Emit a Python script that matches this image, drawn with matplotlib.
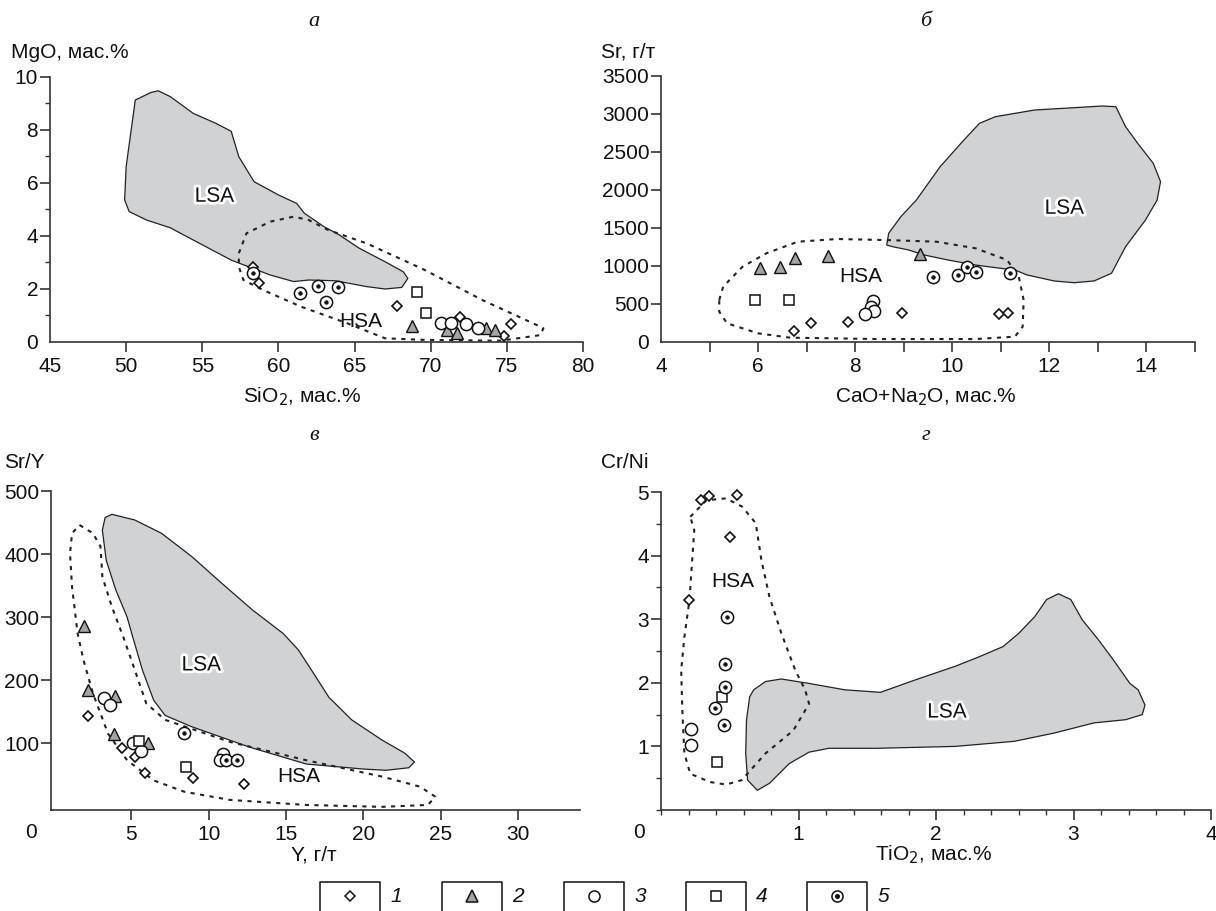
import matplotlib
matplotlib.use("Agg")
import matplotlib.pyplot as plt
import matplotlib.patheffects as pe
from matplotlib.patches import Polygon
from matplotlib.ticker import MultipleLocator

plt.rcParams['font.family'] = ['Liberation Sans', 'DejaVu Sans']

W, H = 1216, 911

# ---------------- Panel a: SiO2 vs MgO ----------------
a_s1_x = [58.3, 58.7, 67.8, 71.9, 75.3, 74.8]
a_s1_y = [2.84, 2.21, 1.36, 0.96, 0.67, 0.24]
a_s2_x = [68.8, 71.1, 71.7, 73.6, 74.2]
a_s2_y = [0.60, 0.45, 0.35, 0.54, 0.45]
a_s3_x = [70.7, 71.3, 72.3, 73.1]
a_s3_y = [0.73, 0.73, 0.67, 0.54]
a_s4_x = [69.1, 69.7]
a_s4_y = [1.88, 1.11]
a_s5_x = [58.3, 61.4, 62.6, 63.1, 63.9]
a_s5_y = [2.59, 1.86, 2.11, 1.51, 2.06]
a_lsa_x = [51.6, 50.6, 50.3, 50.0, 49.9, 50.2, 51.35, 52.9, 54.4, 56.9, 59.45, 61.0, 62.0,
           63.75, 65.8, 67.0, 68.1, 68.5, 68.2, 67.0, 65.3, 64.0, 63.0, 61.7, 61.2, 60.0,
           58.4, 57.4, 56.9, 55.9, 54.4, 52.9, 52.1]
a_lsa_y = [9.41, 9.13, 7.87, 6.62, 5.36, 4.92, 4.6, 4.31, 3.85, 3.09, 2.53, 2.28, 2.34,
           2.31, 2.09, 2.0, 2.06, 2.4, 2.65, 3.03, 3.54, 4.04, 4.35, 4.86, 5.23, 5.55,
           6.05, 6.99, 7.95, 8.25, 8.63, 9.26, 9.48]
a_hsa_x = [57.4, 57.9, 59.45, 61.0, 62.0, 63.25, 65.8, 69.6, 73.4, 76.7, 77.4, 77.2, 74.6,
           69.6, 67.0, 64.5, 61.5, 59.0, 57.7, 57.4]
a_hsa_y = [3.35, 4.1, 4.54, 4.73, 4.6, 4.23, 3.72, 2.72, 1.58, 0.71, 0.52, 0.26, 0.05,
           0.08, 0.14, 0.71, 1.33, 1.96, 2.34, 2.84]

# ---------------- Panel b: CaO+Na2O vs Sr ----------------
b_s1_x = [6.74, 7.1, 7.86, 8.96, 10.97, 11.15]
b_s1_y = [145, 246, 259, 377, 368, 377]
b_s2_x = [6.03, 6.46, 6.76, 7.45, 9.34]
b_s2_y = [980, 990, 1110, 1130, 1160]
b_s3_x = [8.37, 8.33, 8.39, 8.2]
b_s3_y = [539, 465, 408, 364]
b_s4_x = [5.93, 6.64]
b_s4_y = [553, 553]
b_s5_x = [9.61, 10.11, 10.3, 10.48, 11.19]
b_s5_y = [860, 877, 991, 917, 904]
b_lsa_x = [8.65, 8.69, 8.94, 9.26, 9.75, 10.24, 10.56, 10.89, 11.7, 12.51, 13.08, 13.37,
           13.57, 13.82, 14.14, 14.29, 14.22, 13.98, 13.57, 13.28, 12.92, 12.51, 12.1,
           11.54, 11.29, 10.89, 10.48, 9.91, 9.42, 9.1, 8.77]
b_lsa_y = [1276, 1430, 1649, 1868, 2307, 2658, 2877, 2965, 3053, 3083, 3105, 3096,
           2833, 2614, 2351, 2110, 1868, 1605, 1254, 904, 803, 780, 803,
           882, 947, 978, 1013, 1079, 1145, 1211, 1254]
b_hsa_x = [5.2, 5.28, 5.68, 6.17, 6.82, 7.63, 8.61, 9.67, 10.48, 11.13, 11.37, 11.47,
           11.45, 11.29, 10.48, 8.45, 6.66, 6.0, 5.36, 5.2]
b_hsa_y = [553, 728, 991, 1167, 1320, 1355, 1342, 1320, 1233, 1079, 860, 553,
           201, 70, 39, 39, 57, 114, 246, 399]

# ---------------- Panel c: Y vs Sr/Y ----------------
c_s1_x = [2.21, 4.4, 5.22, 5.88, 8.98, 12.27]
c_s1_y = [143, 93, 78, 52, 45, 35]
c_s2_x = [1.94, 2.21, 3.93, 3.86, 6.07]
c_s2_y = [286, 185, 175, 115, 100]
c_s3_x = [3.2, 3.59, 5.09, 5.59, 10.95, 10.7]
c_s3_y = [172, 161, 100, 87, 83, 73]
c_s4_x = [5.46, 8.54]
c_s4_y = [104, 62]
c_s5_x = [8.37, 11.12, 11.8]
c_s5_y = [116, 73, 73]
c_lsa_x = [3.74, 5.22, 6.94, 8.9, 10.87, 12.84, 14.81, 15.79, 16.77, 17.76, 19.24, 21.2,
           22.68, 23.3, 22.93, 21.45, 19.97, 16.29, 12.6, 8.91, 7.18, 6.44, 5.71, 5.09,
           4.72, 3.99, 3.37, 3.12, 3.3]
c_lsa_y = [463, 454, 433, 396, 353, 311, 274, 248, 211, 173, 137, 105,
           84, 70, 61, 57, 59, 67, 94, 126, 144, 168, 216, 268,
           300, 343, 390, 438, 458]
c_hsa_x = [1.65, 2.51, 3.0, 3.12, 3.74, 4.48, 5.22, 5.96, 7.18, 11.37, 16.29, 21.2, 23.66,
           24.65, 24.16, 21.2, 16.29, 11.37, 8.41, 6.44, 4.72, 3.49, 2.51, 1.9, 1.52,
           1.16, 1.03, 1.16]
c_hsa_y = [446, 433, 412, 364, 316, 268, 216, 163, 137, 102, 73, 47, 31,
           15, 2, -1, 2, 10, 23, 41, 73, 115, 179, 232, 274,
           348, 401, 433]

# ---------------- Panel d: TiO2 vs Cr/Ni ----------------
d_s1_x = [0.294, 0.35, 0.553, 0.50, 0.207]
d_s1_y = [4.87, 4.93, 4.95, 4.29, 3.30]
d_s3_x = [0.219, 0.219]
d_s3_y = [1.27, 1.02]
d_s4_x = [0.443, 0.406]
d_s4_y = [1.78, 0.75]
d_s5_x = [0.478, 0.464, 0.464, 0.395, 0.458]
d_s5_y = [3.04, 2.30, 1.94, 1.60, 1.34]
d_lsa_x = [0.645, 0.674, 0.76, 0.875, 1.077, 1.336, 1.596, 1.855, 2.14, 2.315, 2.488,
           2.603, 2.718, 2.805, 2.89, 2.98, 3.064, 3.18, 3.29, 3.41, 3.47, 3.52, 3.50,
           3.38, 3.15, 2.86, 2.57, 2.14, 1.566, 1.22, 1.077, 0.933, 0.789, 0.70, 0.63,
           0.616, 0.622]
d_lsa_y = [1.78, 1.89, 2.02, 2.06, 1.99, 1.89, 1.85, 2.05, 2.26, 2.41, 2.57,
           2.78, 3.04, 3.31, 3.40, 3.31, 2.99, 2.68, 2.36, 1.99, 1.89, 1.65, 1.50,
           1.42, 1.37, 1.21, 1.08, 1.00, 0.97, 0.97, 0.91, 0.73, 0.42, 0.31, 0.47,
           0.89, 1.42]
d_hsa_x = [0.213, 0.33, 0.473, 0.59, 0.689, 0.73, 0.789, 0.875, 0.976, 1.048, 1.077,
           0.962, 0.76, 0.587, 0.473, 0.357, 0.213, 0.17, 0.155, 0.147, 0.17, 0.207,
           0.227, 0.242]
d_hsa_y = [4.61, 4.87, 4.90, 4.77, 4.51, 3.93, 3.35, 2.78, 2.20, 1.89, 1.67,
           1.25, 0.89, 0.47, 0.40, 0.44, 0.57, 0.89, 1.57, 2.20, 2.72, 3.30,
           3.93, 4.4]

legend_labels = ['1', '2', '3', '4', '5']

LSA_FC = '#d1d2d4'
TRI_FC = '#a3a4a6'
AX_C = '#333333'
FS = 15

fig = plt.figure(figsize=(W / 100, H / 100), dpi=100)


def px_axes(l, t, r, b):
    return fig.add_axes([l / W, 1 - b / H, (r - l) / W, (b - t) / H])


def ftext(x, y, s, **kw):
    fig.text(x / W, 1 - y / H, s, **kw)


halo = [pe.withStroke(linewidth=4, foreground='white')]


def draw_fields(ax, lx, ly, hx, hy):
    ax.add_patch(Polygon(list(zip(lx, ly)), closed=True, facecolor=LSA_FC,
                         edgecolor='#222222', linewidth=0.9, zorder=1, joinstyle='round'))
    ax.add_patch(Polygon(list(zip(hx, hy)), closed=True, facecolor='none',
                         edgecolor='#222222', linewidth=1.5, linestyle=(0, (2.0, 2.6)),
                         zorder=2, joinstyle='round'))


def draw_points(ax, s1, s2, s3, s4, s5):
    common = dict(linestyle='none', mec='#111111', clip_on=False)
    if s1:
        ax.plot(*s1, marker='D', ms=5.2, mfc='white', mew=1.2, zorder=4, **common)
    if s2:
        ax.plot(*s2, marker='^', ms=8.2, mfc=TRI_FC, mew=1.0, zorder=4, **common)
    if s3:
        ax.plot(*s3, marker='o', ms=8.8, mfc='white', mew=1.1, zorder=4, **common)
    if s4:
        ax.plot(*s4, marker='s', ms=7.4, mfc='white', mew=1.1, zorder=4, **common)
    if s5:
        ax.plot(*s5, marker='o', ms=8.8, mfc='white', mew=1.1, zorder=5, **common)
        ax.plot(*s5, marker='o', ms=2.6, mfc='#111111', mew=0.5, zorder=6, **common)


def style(ax):
    for s in ['top', 'right']:
        ax.spines[s].set_visible(False)
    for s in ['left', 'bottom']:
        ax.spines[s].set_color(AX_C)
        ax.spines[s].set_linewidth(1.2)
    ax.tick_params(which='major', direction='out', length=7, width=1.2, color=AX_C,
                   labelsize=FS, labelcolor='#111111')
    ax.tick_params(which='minor', direction='out', length=3.5, width=1.0, color=AX_C)
    ax.tick_params(axis='x', which='major', pad=4)
    ax.tick_params(axis='y', which='major', pad=1.5)
    ax.set_facecolor('none')


label_kw = dict(fontsize=FS, color='#111111')
title_kw = dict(fontsize=16, fontstyle='italic', family=['Liberation Serif', 'DejaVu Serif'],
                ha='center', va='center', color='#111111')
field_kw = dict(fontsize=15, ha='center', va='center', zorder=7, color='#111111')

# ---- a
axa = px_axes(50, 77, 583, 342)
style(axa)
axa.set_xlim(45, 80)
axa.set_ylim(0, 10)
axa.set_xticks(range(45, 81, 5))
axa.set_yticks(range(0, 11, 2))
axa.yaxis.set_minor_locator(MultipleLocator(1))
draw_fields(axa, a_lsa_x, a_lsa_y, a_hsa_x, a_hsa_y)
draw_points(axa, (a_s1_x, a_s1_y), (a_s2_x, a_s2_y), (a_s3_x, a_s3_y),
            (a_s4_x, a_s4_y), (a_s5_x, a_s5_y))
axa.text(55.8, 5.5, 'LSA', path_effects=halo, **field_kw)
axa.text(65.4, 0.77, 'HSA', **field_kw)
axa.xaxis.get_major_ticks()[0].tick1line.set_visible(False)
axa.yaxis.get_major_ticks()[0].tick1line.set_visible(False)
ftext(11, 52, 'MgO, мас.%', ha='left', va='center', **label_kw)
ftext(302, 397, 'SiO$_2$, мас.%', ha='center', va='center', **label_kw)
ftext(314, 22, 'а', **title_kw)

# ---- b
axb = px_axes(661, 76, 1195, 342)
style(axb)
axb.set_xlim(4, 15)
axb.set_ylim(0, 3500)
xt = list(range(4, 16))
axb.set_xticks(xt)
axb.set_xticklabels([str(v) if v % 2 == 0 else '' for v in xt])
axb.set_yticks(range(0, 3501, 500))
draw_fields(axb, b_lsa_x, b_lsa_y, b_hsa_x, b_hsa_y)
draw_points(axb, (b_s1_x, b_s1_y), (b_s2_x, b_s2_y), (b_s3_x, b_s3_y),
            (b_s4_x, b_s4_y), (b_s5_x, b_s5_y))
axb.text(12.31, 1759, 'LSA', path_effects=halo, **field_kw)
axb.text(8.12, 868, 'HSA', **field_kw)
axb.xaxis.get_major_ticks()[0].tick1line.set_visible(False)
axb.yaxis.get_major_ticks()[0].tick1line.set_visible(False)
ftext(601, 52, 'Sr, г/т', ha='left', va='center', **label_kw)
ftext(926, 397, 'CaO+Na$_2$O, мас.%', ha='center', va='center', **label_kw)
ftext(926, 22, 'б', **title_kw)

# ---- c
axc = px_axes(51, 491, 580, 810)
style(axc)
axc.set_xlim(-0.2, 34)
axc.set_ylim(-6, 500)
axc.set_xticks(range(5, 31, 5))
axc.set_yticks(range(100, 501, 100))
draw_fields(axc, c_lsa_x, c_lsa_y, c_hsa_x, c_hsa_y)
draw_points(axc, (c_s1_x, c_s1_y), (c_s2_x, c_s2_y), (c_s3_x, c_s3_y),
            (c_s4_x, c_s4_y), (c_s5_x, c_s5_y))
axc.text(9.52, 224, 'LSA', path_effects=halo, **field_kw)
axc.text(15.8, 47, 'HSA', **field_kw)
ftext(31, 833, '0', ha='center', va='center', **label_kw)
ftext(4, 462, 'Sr/Y', ha='left', va='center', **label_kw)
ftext(314, 855, 'Y, г/т', ha='center', va='center', **label_kw)
ftext(314, 435, 'в', **title_kw)

# ---- d
axd = px_axes(661, 492, 1211, 810)
style(axd)
axd.set_xlim(0, 4)
axd.set_ylim(0, 5)
axd.set_xticks([1, 2, 3, 4])
axd.xaxis.set_minor_locator(MultipleLocator(0.2))
axd.set_yticks([1, 2, 3, 4, 5])
axd.yaxis.set_minor_locator(MultipleLocator(0.5))
draw_fields(axd, d_lsa_x, d_lsa_y, d_hsa_x, d_hsa_y)
draw_points(axd, (d_s1_x, d_s1_y), None, (d_s3_x, d_s3_y),
            (d_s4_x, d_s4_y), (d_s5_x, d_s5_y))
axd.text(2.08, 1.54, 'LSA', path_effects=halo, **field_kw)
axd.text(0.52, 3.59, 'HSA', **field_kw)
ftext(639, 833, '0', ha='center', va='center', **label_kw)
ftext(601, 462, 'Cr/Ni', ha='left', va='center', **label_kw)
ftext(934, 855, 'TiO$_2$, мас.%', ha='center', va='center', **label_kw)
ftext(926, 435, 'г', **title_kw)

# ---- legend strip
axl = fig.add_axes([0, 0, 1, 1])
axl.set_xlim(0, W)
axl.set_ylim(H, 0)
axl.axis('off')
axl.set_zorder(-1)
box_left = [320, 442, 564, 686, 807]
box_w = 60
for i, lab in enumerate(legend_labels):
    x0 = box_left[i]
    axl.plot([x0, x0, x0 + box_w, x0 + box_w], [H + 2, 882, 882, H + 2], color='#222222',
             lw=1.2)
    cx, cy = x0 + box_w / 2, 896
    mk = ['D', '^', 'o', 's', 'o'][i]
    msz = [5.0, 9.0, 8.0, 7.5, 8.0][i]
    fc = TRI_FC if i == 1 else 'white'
    axl.plot([cx], [cy], marker=mk, ms=msz, mfc=fc, mec='#111111', mew=1.1, ls='none')
    if i == 4:
        axl.plot([cx], [cy], marker='o', ms=2.6, mfc='#111111', mec='#111111', ls='none')
    axl.text(x0 + 76, 896, lab, fontsize=FS, fontstyle='italic', ha='center',
             va='center', color='#111111')

fig.savefig('out.png', dpi=100)
